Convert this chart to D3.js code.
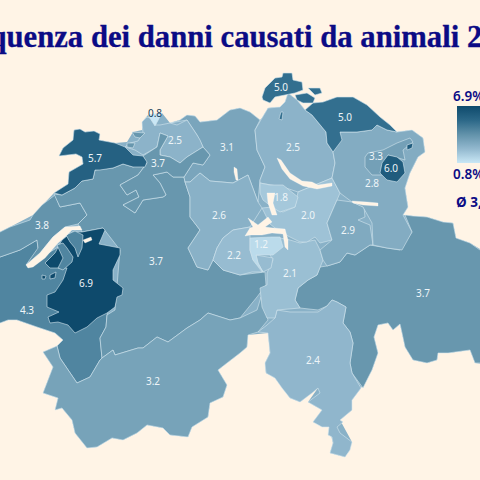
<!DOCTYPE html>
<html>
<head>
<meta charset="utf-8">
<script src="https://cdn.jsdelivr.net/npm/d3@7"></script>
<style>
  html, body { margin: 0; padding: 0; background: #fff4e6; overflow: hidden; }
</style>
</head>
<body>
<div id="plot"></div>
<script>
// values, same order as the outlines below
const cantons = ["VD", "NE", "BE", "VS", "GR", "TI", "UR", "AG", "LU", "OW", "NW", "ZH", "SZ", "ZG", "GL", "SG", "AR", "AI", "TG", "SH", "BL", "SO", "BS", "JU", "FR"];
const values = [4.3, 3.8, 3.7, 3.2, 3.7, 2.4, 2.1, 3.1, 2.6, 2.2, 1.2, 2.5, 2.0, 1.8, 2.9, 2.8, 3.3, 6.0, 5.0, 5.0, 2.5, 3.7, 0.8, 5.7, 6.9];
const labelPoints = [[27,311],[42,226],[156,262],[153,382],[423,294],[313,361],[290,274],[227,148],[219,216],[234,256],[261,245],[293,148],[308,216],[281,198],[348,231],[372,184],[376,157],[391,169],[345,118],[281,88],[175,141],[158,164],[155,114],[95,159],[86,284]];
const legendValues = [6.9, 0.8];
const averageLabel = "Ø 3,3%";
const titleText = "Frequenza dei danni causati da animali 2023";

// country silhouette, keeps the small slivers between cantons filled
const silhouette = [[-8,236],[10,227],[33,215],[54,193],[68,184],[69,172],[83,164],[82,157],[76,154],[59,156],[63,148],[73,140],[74,130],[80,129],[85,132],[94,131],[100,134],[99,140],[115,143],[127,142],[133,132],[142,130],[142,122],[148,115],[162,113],[170,123],[180,120],[187,115],[195,116],[200,122],[217,120],[230,110],[240,108],[250,112],[260,120],[262,118],[268,108],[280,107],[285,102],[288,93],[297,100],[305,110],[313,103],[323,102],[337,97],[353,97],[367,105],[380,117],[390,125],[397,132],[412,130],[423,138],[425,152],[418,157],[410,173],[405,188],[408,207],[403,215],[413,216],[427,217],[443,222],[453,223],[456,238],[470,243],[490,255],[490,365],[475,363],[470,350],[448,353],[438,353],[437,360],[427,363],[413,360],[405,347],[402,333],[400,324],[393,330],[388,323],[378,325],[374,337],[378,353],[372,370],[361,388],[352,400],[352,410],[340,420],[352,442],[345,457],[330,453],[333,443],[329,427],[313,422],[322,410],[308,402],[318,388],[300,402],[290,398],[275,378],[266,373],[265,363],[270,353],[268,333],[248,335],[247,347],[240,353],[227,363],[218,370],[227,385],[223,397],[210,403],[208,417],[192,427],[188,437],[170,435],[163,428],[147,425],[137,433],[123,440],[112,438],[97,447],[87,448],[75,433],[72,420],[62,408],[55,410],[58,398],[43,393],[53,367],[43,352],[57,346],[63,340],[55,333],[37,327],[17,320],[8,320],[-8,326]];

// canton outlines (planar map units)
const outlineVD = [[[-8,262],[0,257],[20,250],[37,240],[38,248],[45,255],[70,240],[110,300],[107,315],[106,327],[100,338],[102,358],[100,360],[90,377],[77,383],[60,358],[57,346],[63,340],[55,333],[37,327],[17,320],[8,320],[0,323],[-8,326]]];
const outlineNE = [[[55,195],[42,205],[33,215],[30,220],[10,227],[0,232],[-8,236],[-8,262],[0,257],[20,250],[37,240],[38,248],[26,265],[40,253],[53,237],[65,227],[78,224],[87,215],[80,203],[60,207]]];
const outlineBE = [[[54,194],[60,207],[80,203],[87,215],[78,224],[82,232],[103,228],[120,250],[115,310],[107,315],[106,327],[100,338],[102,358],[113,350],[115,355],[138,348],[143,348],[157,337],[168,342],[187,328],[200,320],[208,313],[230,320],[240,318],[257,297],[266,285],[265,272],[240,275],[223,270],[213,260],[208,270],[197,267],[188,248],[200,230],[190,217],[190,197],[185,182],[184,177],[173,177],[167,172],[153,175],[160,183],[166,195],[163,197],[143,200],[135,213],[123,205],[139,197],[136,190],[127,195],[120,185],[138,175],[147,163],[133,167],[123,164],[113,168],[95,170],[93,179],[82,181],[75,188],[62,195]]];
const outlineVS = [[[57,346],[60,358],[77,383],[90,377],[100,360],[102,358],[113,350],[115,355],[138,348],[143,348],[157,337],[168,342],[187,328],[200,320],[208,313],[230,320],[240,318],[257,310],[261,297],[268,320],[258,332],[248,335],[247,347],[240,353],[227,363],[218,370],[227,385],[223,397],[210,403],[208,417],[192,427],[188,437],[170,435],[163,428],[147,425],[137,433],[123,440],[112,438],[97,447],[87,448],[75,433],[72,420],[62,408],[55,410],[58,398],[43,393],[53,367],[43,352]]];
const outlineGR = [[[405,215],[413,216],[427,217],[443,222],[453,223],[456,238],[470,243],[480,250],[490,255],[490,365],[480,363],[475,363],[470,350],[448,353],[438,353],[437,360],[427,363],[413,360],[405,347],[402,333],[400,324],[393,330],[388,323],[378,325],[374,337],[378,353],[372,370],[363,388],[352,373],[350,363],[353,343],[350,332],[343,323],[346,307],[337,302],[332,300],[327,306],[318,310],[300,308],[295,300],[298,288],[308,280],[317,275],[320,267],[327,266],[340,262],[347,253],[355,255],[370,245],[387,248],[400,250],[412,232]]];
const outlineTI = [[[258,332],[267,325],[275,318],[277,310],[290,312],[318,312],[327,306],[332,300],[337,302],[346,307],[343,323],[350,332],[353,343],[350,363],[352,373],[361,388],[352,400],[352,410],[340,420],[343,422],[337,427],[340,433],[352,442],[350,450],[345,457],[330,453],[333,443],[332,437],[328,435],[329,427],[322,427],[313,422],[322,410],[308,402],[320,393],[318,388],[312,393],[300,402],[290,398],[282,388],[275,378],[266,373],[265,363],[270,353],[268,333]]];
const outlineUR = [[[280,238],[290,240],[300,243],[315,240],[320,250],[323,260],[317,275],[308,280],[298,288],[295,300],[300,308],[277,310],[275,318],[267,318],[262,307],[260,288],[267,285],[267,273],[273,260],[270,255],[273,250]]];
const outlineAG = [[[170,123],[180,120],[187,115],[195,116],[200,122],[217,120],[230,110],[240,108],[250,112],[260,120],[255,130],[257,150],[265,167],[260,180],[258,202],[248,175],[233,183],[210,181],[200,173],[190,182],[185,182],[184,177],[193,163],[203,165],[210,155],[203,147],[197,135],[187,120]]];
const outlineLU = [[[185,182],[190,182],[200,173],[210,181],[233,183],[248,175],[258,202],[262,208],[250,227],[233,230],[223,238],[217,248],[213,260],[208,270],[197,267],[188,248],[200,230],[190,217],[190,197]]];
const outlineOW = [[[233,230],[250,227],[250,238],[250,250],[253,260],[262,272],[252,272],[240,275],[223,270],[213,260],[217,248],[223,238]], [[256,255],[273,258],[271,268],[263,272],[258,263]]];
const outlineNW = [[[250,238],[272,237],[280,237],[283,247],[273,255],[256,255],[258,263],[263,272],[253,260],[250,250]]];
const outlineZH = [[[255,130],[262,118],[268,108],[280,107],[285,102],[288,93],[297,100],[305,110],[312,115],[326,132],[327,143],[333,152],[335,163],[332,178],[315,185],[298,192],[283,187],[260,183],[260,180],[265,167],[257,150]]];
const outlineSZ = [[[298,192],[315,185],[332,178],[340,193],[337,200],[327,223],[332,240],[320,243],[315,237],[307,242],[300,242],[290,237],[280,232],[270,224],[262,208],[272,207],[283,212],[295,207]]];
const outlineZG = [[[260,183],[270,185],[283,185],[298,197],[295,207],[280,212],[272,207],[263,200],[260,193]]];
const outlineGL = [[[337,200],[352,202],[364,207],[365,217],[358,220],[365,223],[370,225],[373,245],[370,245],[355,255],[347,253],[340,262],[327,266],[323,260],[320,250],[332,240],[327,223]]];
const outlineSG = [[[340,132],[357,132],[372,130],[377,125],[387,130],[397,132],[412,130],[423,138],[425,152],[418,157],[410,173],[405,188],[408,207],[403,215],[412,232],[402,250],[387,248],[373,245],[372,223],[363,207],[352,202],[340,193],[332,178],[335,163],[333,152],[340,140]]];
const outlineAR = [[[365,157],[368,153],[383,150],[397,143],[410,138],[413,142],[403,150],[405,160],[395,157],[388,155],[382,170],[383,175],[372,175],[365,167]]];
const outlineAI = [[[388,155],[397,157],[403,162],[405,173],[397,182],[387,180],[380,173],[382,163]], [[407,145],[413,143],[412,148],[407,150]]];
const outlineTG = [[[305,110],[313,103],[323,102],[337,97],[353,97],[367,105],[380,117],[390,125],[397,132],[387,130],[377,125],[372,130],[357,132],[340,132],[342,140],[333,152],[327,143],[326,132],[312,115]]];
const outlineSH = [[[262,97],[265,88],[275,78],[282,77],[283,73],[292,73],[293,80],[302,82],[303,90],[295,93],[285,95],[275,97],[270,103],[263,100]], [[295,95],[307,93],[315,98],[313,103],[303,103],[297,100]], [[308,88],[320,88],[322,93],[315,95]], [[281,112],[283,112],[282,120],[279,119]]];
const outlineBL = [[[125,147],[130,143],[138,141],[143,133],[142,122],[147,117],[150,118],[156,125],[160,125],[170,123],[177,125],[187,120],[197,135],[200,140],[203,147],[187,157],[180,163],[170,157],[160,155],[160,150],[168,136],[160,133],[157,147],[143,155],[135,150]]];
const outlineSO = [[[147,163],[143,156],[157,147],[160,133],[168,136],[160,150],[160,155],[170,157],[180,163],[187,157],[203,147],[210,155],[203,165],[193,163],[184,177],[173,177],[167,172],[153,175],[160,183],[166,195],[163,197],[143,200],[135,213],[123,205],[139,197],[136,190],[127,195],[120,185],[138,175]], [[132,132],[145,133],[140,138],[135,137]], [[127,143],[135,143],[133,148],[127,147]]];
const outlineBS = [[[148,115],[162,113],[155,126]]];
const outlineJU = [[[54,193],[68,184],[69,172],[83,164],[82,157],[76,154],[59,156],[63,148],[73,140],[74,130],[80,129],[85,132],[94,131],[100,134],[99,140],[115,143],[125,147],[133,155],[143,156],[147,162],[145,167],[133,167],[123,164],[113,168],[100,170],[95,170],[93,179],[82,181],[75,188],[62,195]]];
const outlineFR = [[[45,263],[55,253],[62,240],[72,232],[82,232],[103,228],[105,230],[99,244],[120,248],[120,255],[113,270],[113,280],[123,288],[122,295],[117,297],[115,307],[107,313],[97,318],[87,327],[75,333],[68,325],[58,322],[50,323],[48,317],[59,312],[47,307],[47,295],[55,292],[63,280],[67,268],[50,268]], [[42,275],[46,276],[45,279],[42,279]], [[50,275],[56,272],[55,278],[50,279]]];

// pieces of VD that sit inside FR
const enclavesVD = [[[57,245],[63,243],[67,248],[73,257],[72,262],[63,270],[58,268],[63,258]], [[66,235],[75,231],[83,235],[82,248],[78,257],[75,248],[70,242]]];
const lakes = [
  [[26,265],[40,253],[53,237],[65,227],[80,226],[82,230],[72,230],[65,237],[58,243],[45,258],[33,267],[28,268]],
  [[83,240],[91,237],[92,240],[85,243]],
  [[277,158],[281,160],[290,173],[302,181],[312,182],[318,185],[332,183],[332,186],[317,189],[303,186],[290,179],[282,169]],
  [[267,193],[275,193],[273,203],[277,215],[272,215],[268,203]],
  [[248,218],[258,225],[268,217],[272,222],[265,227],[273,228],[285,229],[288,240],[288,250],[285,247],[283,234],[272,233],[262,235],[250,235],[245,236],[250,228],[253,227]],
  [[352,201],[367,202],[378,203],[378,206],[363,205],[353,203]],
  [[234,167],[237,169],[238,180],[236,180],[234,172]]
];
const outlines = [outlineVD, outlineNE, outlineBE, outlineVS, outlineGR, outlineTI, outlineUR, outlineAG, outlineLU, outlineOW, outlineNW, outlineZH, outlineSZ, outlineZG, outlineGL, outlineSG, outlineAR, outlineAI, outlineTG, outlineSH, outlineBL, outlineSO, outlineBS, outlineJU, outlineFR];

const w = 480;
const h = 480;
const bg = "#fff4e6";
const navy = "#0b0b85";
const border = "#d3e6ee";

const svg = d3.select("div#plot")
  .append("svg")
  .attr("width", w)
  .attr("height", h)
  .style("display", "block");

svg.append("rect")
  .attr("width", w)
  .attr("height", h)
  .attr("fill", bg);

const colorScale = d3.scaleLinear()
  .domain([0.8, 2.5, 3.7, 5.0, 6.9])
  .range(["#c9e7f5", "#8cb3c9", "#6897ae", "#336f8f", "#0e4a6c"]);

const projection = d3.geoIdentity();
const path = d3.geoPath(projection);
const ringShape = r => path({type: "Polygon", coordinates: [r.concat([r[0]])]});

const toFeature = (rings, i) => ({
  type: "Feature",
  properties: {name: cantons[i], value: values[i]},
  geometry: {type: "MultiPolygon", coordinates: rings.map(r => [r.concat([r[0]])])}
});

svg.append("path")
  .attr("d", ringShape(silhouette))
  .attr("fill", colorScale(2.6));

svg.append("g")
  .selectAll("path")
  .data(outlines.map(toFeature))
  .enter().append("path")
  .attr("d", path)
  .attr("fill", d => colorScale(d.properties.value))
  .attr("stroke", border)
  .attr("stroke-width", 0.6)
  .attr("stroke-linejoin", "round");

svg.append("g")
  .selectAll("path")
  .data(enclavesVD)
  .enter().append("path")
  .attr("d", ringShape)
  .attr("fill", colorScale(values[cantons.indexOf("VD")]))
  .attr("stroke", border)
  .attr("stroke-width", 0.6);

svg.append("g")
  .selectAll("path")
  .data(lakes)
  .enter().append("path")
  .attr("d", ringShape)
  .attr("fill", bg)
  .attr("stroke", "#ffffff")
  .attr("stroke-width", 0.3);

svg.append("g")
  .selectAll("text")
  .data(values)
  .enter().append("text")
  .attr("x", (d, i) => projection(labelPoints[i])[0])
  .attr("y", (d, i) => projection(labelPoints[i])[1])
  .attr("text-anchor", "middle")
  .attr("dominant-baseline", "middle")
  .attr("font-family", "'Noto Sans', sans-serif")
  .attr("font-size", 10)
  .attr("fill", d => d < 1 ? "#16405a" : "#eef5f8")
  .text(d => d.toFixed(1));

svg.append("text")
  .attr("x", -56)
  .attr("y", 47)
  .attr("font-family", "'Liberation Serif', serif")
  .attr("font-weight", 700)
  .attr("font-size", 30.7)
  .attr("fill", navy)
  .attr("stroke", navy)
  .attr("stroke-width", 0.3)
  .text(titleText);

// legend
const gradient = svg.append("defs").append("linearGradient")
  .attr("id", "legendRamp")
  .attr("x1", 0).attr("y1", 0)
  .attr("x2", 0).attr("y2", 1);

gradient.selectAll("stop")
  .data(d3.range(0, 1.01, 0.25))
  .enter().append("stop")
  .attr("offset", d => d)
  .attr("stop-color", d => colorScale(legendValues[0] + d * (legendValues[1] - legendValues[0])));

svg.append("rect")
  .attr("x", 457)
  .attr("y", 106)
  .attr("width", 40)
  .attr("height", 57)
  .attr("fill", "url(#legendRamp)");

svg.selectAll(".legendLabel")
  .data(legendValues)
  .enter().append("text")
  .attr("class", "legendLabel")
  .attr("x", 453)
  .attr("y", (d, i) => i ? 179 : 101)
  .attr("font-family", "'Noto Sans', sans-serif")
  .attr("font-weight", 600)
  .attr("font-size", 13.5)
  .attr("fill", navy)
  .text(d => d.toFixed(1) + "%");

svg.append("text")
  .attr("x", 456)
  .attr("y", 207)
  .attr("font-family", "'Noto Sans', sans-serif")
  .attr("font-weight", 700)
  .attr("font-size", 13.5)
  .attr("fill", navy)
  .text(averageLabel);
</script>
</body>
</html>
